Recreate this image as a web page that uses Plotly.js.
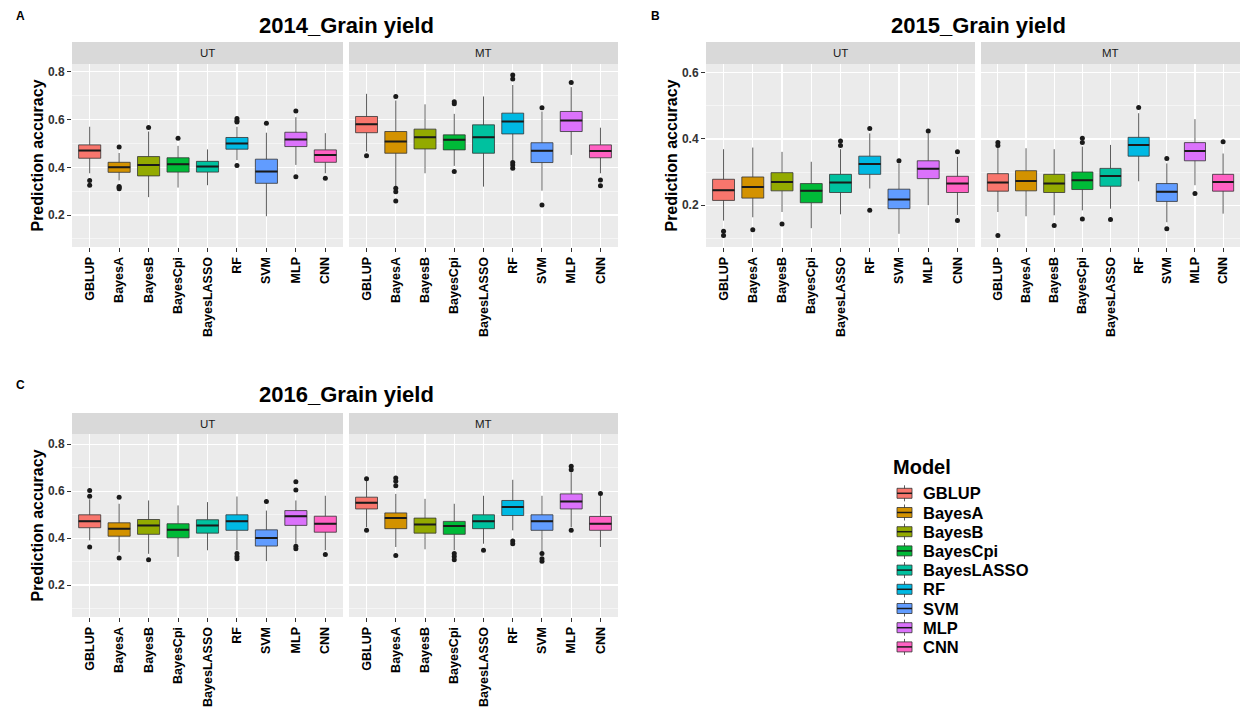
<!DOCTYPE html>
<html><head><meta charset="utf-8">
<script src="https://cdn.plot.ly/plotly-3.0.1.min.js"></script>
<style>html,body{margin:0;padding:0;background:#fff}#chart{width:1248px;height:715px}</style>
</head><body><div id="chart"></div>
<script>
const models = ['GBLUP','BayesA','BayesB','BayesCpi','BayesLASSO','RF','SVM','MLP','CNN'];
const colors = ['#F8766D','#D39200','#93AA00','#00BA38','#00C19F','#00B9E3','#619CFF','#DB72FB','#FF61C3'];
const facetNames = ['UT','MT'];
const titles = ['2014_Grain yield','2015_Grain yield','2016_Grain yield'];
const panelLabels = ['A','B','C'];
const yTicksAC = [0.2,0.4,0.6,0.8];
const yTicksB = [0.2,0.4,0.6];
const yMinorAC = [0.1,0.3,0.5,0.7];
const yMinorB = [0.1,0.3,0.5];
const yTitle = 'Prediction accuracy';
const legendTitle = 'Model';

// 2014 UT
const g14UT_lo  = [0.375,0.345,0.275,0.315,0.325,0.430,0.195,0.410,0.375];
const g14UT_q1  = [0.438,0.379,0.364,0.380,0.380,0.476,0.333,0.487,0.421];
const g14UT_med = [0.470,0.400,0.410,0.413,0.403,0.500,0.382,0.517,0.452];
const g14UT_q3  = [0.494,0.421,0.445,0.440,0.425,0.525,0.434,0.547,0.473];
const g14UT_hi  = [0.570,0.460,0.550,0.490,0.475,0.570,0.545,0.610,0.543];
const g14UT_out = [[0.345,0.325],[0.485,0.320,0.315,0.310],[0.567],[0.522],[],[0.605,0.595,0.590,0.408],[0.585],[0.636,0.360],[0.354]];
// 2014 MT
const g14MT_lo  = [0.466,0.320,0.375,0.406,0.319,0.430,0.302,0.452,0.375];
const g14MT_q1  = [0.545,0.459,0.477,0.473,0.459,0.540,0.420,0.550,0.440];
const g14MT_med = [0.580,0.508,0.526,0.515,0.526,0.592,0.469,0.596,0.468];
const g14MT_q3  = [0.613,0.550,0.560,0.536,0.578,0.627,0.503,0.634,0.494];
const g14MT_hi  = [0.708,0.680,0.664,0.624,0.697,0.745,0.634,0.736,0.566];
const g14MT_out = [[0.448],[0.697,0.312,0.298,0.259],[],[0.675,0.666,0.382],[],[0.787,0.770,0.420,0.410,0.396],[0.650,0.242],[0.755],[0.347,0.323]];
// 2015 UT
const g15UT_lo  = [0.153,0.163,0.179,0.130,0.172,0.250,0.113,0.200,0.170];
const g15UT_q1  = [0.214,0.221,0.243,0.207,0.238,0.293,0.189,0.280,0.238];
const g15UT_med = [0.245,0.255,0.270,0.243,0.268,0.324,0.217,0.310,0.265];
const g15UT_q3  = [0.278,0.285,0.298,0.265,0.293,0.348,0.248,0.334,0.287];
const g15UT_hi  = [0.369,0.374,0.361,0.331,0.369,0.417,0.326,0.417,0.346];
const g15UT_out = [[0.121,0.108],[0.125],[0.143],[],[0.394,0.380],[0.432,0.184],[0.334],[0.424],[0.361,0.153]];
// 2015 MT
const g15MT_lo  = [0.179,0.166,0.169,0.184,0.189,0.272,0.148,0.260,0.174];
const g15MT_q1  = [0.242,0.243,0.238,0.247,0.257,0.348,0.211,0.334,0.242];
const g15MT_med = [0.268,0.273,0.265,0.275,0.288,0.382,0.240,0.364,0.270];
const g15MT_q3  = [0.295,0.304,0.293,0.300,0.311,0.405,0.265,0.389,0.293];
const g15MT_hi  = [0.377,0.372,0.369,0.377,0.382,0.478,0.326,0.460,0.356];
const g15MT_out = [[0.389,0.380,0.108],[],[0.138],[0.402,0.389,0.158],[0.156],[0.495],[0.341,0.128],[0.235],[0.392]];
// 2016 UT
const g16UT_lo  = [0.390,0.340,0.333,0.320,0.348,0.348,0.302,0.376,0.348];
const g16UT_q1  = [0.444,0.408,0.416,0.401,0.421,0.433,0.366,0.454,0.425];
const g16UT_med = [0.472,0.440,0.454,0.435,0.454,0.472,0.400,0.493,0.461];
const g16UT_q3  = [0.499,0.465,0.479,0.461,0.478,0.499,0.435,0.517,0.493];
const g16UT_hi  = [0.565,0.546,0.560,0.539,0.553,0.577,0.517,0.560,0.580];
const g16UT_out = [[0.602,0.578,0.362],[0.574,0.315],[0.308],[],[],[0.334,0.322,0.312],[0.556],[0.640,0.605,0.365,0.355],[0.330]];
// 2016 MT
const g16MT_lo  = [0.447,0.362,0.352,0.348,0.376,0.433,0.340,0.447,0.362];
const g16MT_q1  = [0.524,0.440,0.421,0.416,0.440,0.496,0.433,0.524,0.433];
const g16MT_med = [0.550,0.485,0.458,0.451,0.472,0.532,0.472,0.556,0.461];
const g16MT_q3  = [0.574,0.507,0.485,0.471,0.499,0.560,0.499,0.588,0.492];
const g16MT_hi  = [0.645,0.588,0.567,0.546,0.580,0.648,0.580,0.680,0.580];
const g16MT_out = [[0.652,0.433],[0.656,0.642,0.623,0.326],[],[0.334,0.322,0.308],[0.348],[0.387,0.376],[0.334,0.312,0.301],[0.706,0.691,0.433],[0.590]];

const W = 1248, H = 715;
const fx = p => p / W, fy = p => 1 - p / H;
const FONT = 'Liberation Sans, Arial, Helvetica, sans-serif';

const panels = [
  {title: titles[0], label: panelLabels[0], yr: [0.066, 0.833], ticks: yTicksAC, minor: yMinorAC,
   cols: [[72, 343], [349, 618]], top: 64, bot: 247, strip: 42, titleXY: [346, 25], labelXY: [20, 16],
   facets: [
     {lo: g14UT_lo, q1: g14UT_q1, med: g14UT_med, q3: g14UT_q3, hi: g14UT_hi, out: g14UT_out},
     {lo: g14MT_lo, q1: g14MT_q1, med: g14MT_med, q3: g14MT_q3, hi: g14MT_hi, out: g14MT_out}]},
  {title: titles[1], label: panelLabels[1], yr: [0.073, 0.627], ticks: yTicksB, minor: yMinorB,
   cols: [[706, 975], [981, 1240]], top: 64, bot: 247, strip: 42, titleXY: [978, 25], labelXY: [655, 16],
   facets: [
     {lo: g15UT_lo, q1: g15UT_q1, med: g15UT_med, q3: g15UT_q3, hi: g15UT_hi, out: g15UT_out},
     {lo: g15MT_lo, q1: g15MT_q1, med: g15MT_med, q3: g15MT_q3, hi: g15MT_hi, out: g15MT_out}]},
  {title: titles[2], label: panelLabels[2], yr: [0.064, 0.843], ticks: yTicksAC, minor: yMinorAC,
   cols: [[72, 343], [349, 618]], top: 434, bot: 617, strip: 413, titleXY: [346, 395], labelXY: [20, 385],
   facets: [
     {lo: g16UT_lo, q1: g16UT_q1, med: g16UT_med, q3: g16UT_q3, hi: g16UT_hi, out: g16UT_out},
     {lo: g16MT_lo, q1: g16MT_q1, med: g16MT_med, q3: g16MT_q3, hi: g16MT_hi, out: g16MT_out}]}
];

const traces = [];
const layout = {
  width: W, height: H, margin: {l: 0, r: 0, t: 0, b: 0},
  paper_bgcolor: '#ffffff', plot_bgcolor: '#EBEBEB',
  showlegend: false, boxmode: 'overlay',
  font: {family: FONT, color: '#000'},
  shapes: [], annotations: []
};

let axn = 0;
panels.forEach((p) => {
  layout.annotations.push({text: p.title, xref: 'paper', yref: 'paper', x: fx(p.titleXY[0]), y: fy(p.titleXY[1]),
    xanchor: 'center', yanchor: 'middle', showarrow: false, font: {size: 22, weight: 'bold', color: '#000', family: FONT}});
  layout.annotations.push({text: p.label, xref: 'paper', yref: 'paper', x: fx(p.labelXY[0]), y: fy(p.labelXY[1]),
    xanchor: 'center', yanchor: 'middle', showarrow: false, font: {size: 12, weight: 'bold', color: '#000', family: FONT}});
  p.facets.forEach((f, fi) => {
    axn++;
    const sfx = axn === 1 ? '' : String(axn);
    const xa = 'x' + sfx, ya = 'y' + sfx;
    const c = p.cols[fi];
    layout.shapes.push({type: 'rect', xref: 'paper', yref: 'paper', x0: fx(c[0]), x1: fx(c[1]), y0: fy(p.top), y1: fy(p.strip),
      fillcolor: '#D9D9D9', line: {width: 0}, layer: 'below'});
    layout.annotations.push({text: facetNames[fi], xref: 'paper', yref: 'paper', x: fx((c[0] + c[1]) / 2), y: fy((p.top + p.strip) / 2),
      xanchor: 'center', yanchor: 'middle', showarrow: false, font: {size: 11.5, color: '#1A1A1A', family: FONT}});
    layout['xaxis' + sfx] = {
      domain: [fx(c[0]), fx(c[1])], anchor: ya, type: 'category', categoryorder: 'array', categoryarray: models,
      range: [-0.6, 8.6], tickangle: -90, tickfont: {family: FONT, size: 12.5, color: '#000', weight: 'bold'},
      ticks: 'outside', ticklen: 4, tickcolor: '#333', tickwidth: 1,
      showgrid: true, gridcolor: '#ffffff', gridwidth: 1.1, zeroline: false, showline: false, fixedrange: true
    };
    const yax = {
      domain: [fy(p.bot), fy(p.top)], anchor: xa, range: p.yr,
      tickmode: 'array', tickvals: p.ticks, ticktext: p.ticks.map(v => v.toFixed(1)),
      showticklabels: fi === 0, ticks: fi === 0 ? 'outside' : '', ticklen: 4, tickcolor: '#333', tickwidth: 1,
      tickfont: {family: FONT, size: 12, color: '#333', weight: 'bold'},
      showgrid: true, gridcolor: '#ffffff', gridwidth: 1.1,
      minor: {tickmode: 'array', tickvals: p.minor, showgrid: true, gridcolor: '#ffffff', gridwidth: 0.5, ticks: ''},
      zeroline: false, showline: false, fixedrange: true
    };
    if (fi === 0) yax.title = {text: yTitle, font: {family: FONT, size: 16, weight: 'bold', color: '#000'}, standoff: 0};
    layout['yaxis' + sfx] = yax;

    models.forEach((m, i) => {
      traces.push({type: 'box', xaxis: xa, yaxis: ya, name: m, x: [m],
        q1: [f.q1[i]], median: [f.med[i]], q3: [f.q3[i]], lowerfence: [f.lo[i]], upperfence: [f.hi[i]],
        fillcolor: colors[i], line: {color: '#333333', width: 0.8}, whiskerwidth: 0, width: 0.75,
        boxpoints: false, showlegend: false, hoverinfo: 'skip'});
    });
    traces.push({type: 'box', xaxis: xa, yaxis: ya, name: 'median', x: models,
      q1: f.med, median: f.med, q3: f.med, lowerfence: f.med, upperfence: f.med,
      fillcolor: 'rgba(0,0,0,0)', line: {color: '#1A1A1A', width: 2}, whiskerwidth: 0, width: 0.75,
      boxpoints: false, showlegend: false, hoverinfo: 'skip'});
    const ox = [], oy = [];
    f.out.forEach((arr, i) => arr.forEach(v => { ox.push(models[i]); oy.push(v); }));
    traces.push({type: 'scatter', mode: 'markers', xaxis: xa, yaxis: ya, x: ox, y: oy,
      marker: {color: '#1A1A1A', size: 5}, showlegend: false, hoverinfo: 'skip'});
  });
});

layout.annotations.push({text: legendTitle, xref: 'paper', yref: 'paper', x: fx(891), y: fy(467),
  xanchor: 'left', yanchor: 'middle', showarrow: false, font: {family: FONT, size: 20, weight: 'bold', color: '#000'}});
const legTop = 493.3, legStep = 19.2, keyX0 = 897, keyX1 = 912;
models.forEach((m, i) => {
  const yc = legTop + i * legStep;
  const xm = (keyX0 + keyX1) / 2;
  layout.shapes.push({type: 'line', xref: 'paper', yref: 'paper', x0: fx(xm), x1: fx(xm), y0: fy(yc - 8), y1: fy(yc + 8),
    line: {color: '#333333', width: 0.8}});
  layout.shapes.push({type: 'rect', xref: 'paper', yref: 'paper', x0: fx(keyX0), x1: fx(keyX1), y0: fy(yc + 5), y1: fy(yc - 5),
    fillcolor: colors[i], line: {color: '#333333', width: 0.8}});
  layout.shapes.push({type: 'line', xref: 'paper', yref: 'paper', x0: fx(keyX0), x1: fx(keyX1), y0: fy(yc), y1: fy(yc),
    line: {color: '#1A1A1A', width: 1.5}});
  layout.annotations.push({text: m, xref: 'paper', yref: 'paper', x: fx(921), y: fy(yc),
    xanchor: 'left', yanchor: 'middle', showarrow: false, font: {family: FONT, size: 16.5, weight: 'bold', color: '#000'}});
});

Plotly.newPlot('chart', traces, layout, {displayModeBar: false, staticPlot: true});
</script>
</body></html>
